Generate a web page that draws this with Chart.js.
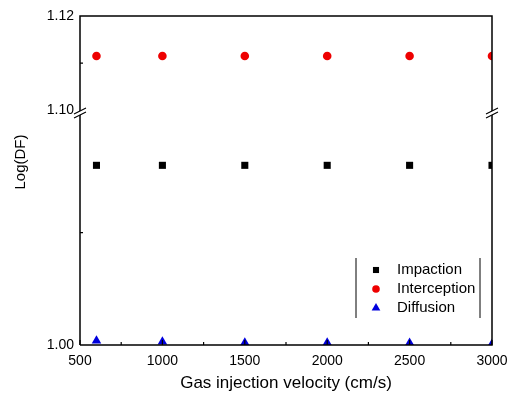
<!DOCTYPE html>
<html>
<head>
<meta charset="utf-8">
<script src="https://cdn.jsdelivr.net/npm/chart.js@4/dist/chart.umd.min.js"></script>
<style>
html,body{margin:0;padding:0;background:#fff;}
#wrap{width:512px;height:403px;}
</style>
</head>
<body>
<div id="wrap"><canvas id="c" width="512" height="403"></canvas></div>
<script>
const velocities = [600, 1000, 1500, 2000, 2500, 3000];
const impaction = [1.080, 1.080, 1.080, 1.080, 1.080, 1.080];
const interception = [1.1115, 1.1115, 1.1115, 1.1115, 1.1115, 1.1115];
const diffusion = [1.0019, 1.0015, 1.0010, 1.0010, 1.0009, 1.0005];
const xTicks = [500, 1000, 1500, 2000, 2500, 3000];
const xMinorTicks = [750, 1250, 1750, 2250, 2750];
const lowerTickLabels = [1.00];
const lowerMinorTicks = [1.05];
const upperTickLabels = [1.10, 1.12];
const upperMinorTicks = [1.11];

const FONT = "'Liberation Sans', Arial, sans-serif";

function pts(xs, ys){ return xs.map((x,i)=>({x:x, y:ys[i]})); }

const framePlugin = {
  id: 'frame',
  afterDraw(chart){
    const ctx = chart.ctx, a = chart.chartArea;
    const xs = chart.scales.x, yl = chart.scales.y, yu = chart.scales.y2;
    ctx.save();
    ctx.strokeStyle = '#000';
    ctx.lineWidth = 1.5;
    ctx.beginPath();
    ctx.moveTo(a.left, a.bottom); ctx.lineTo(a.left, a.top); ctx.lineTo(a.right, a.top); ctx.lineTo(a.right, a.bottom); ctx.lineTo(a.left, a.bottom);
    ctx.stroke();
    // inward ticks
    ctx.lineWidth = 1.2;
    ctx.beginPath();
    xTicks.concat(xMinorTicks).forEach(v=>{
      const px = xs.getPixelForValue(v);
      const len = xMinorTicks.includes(v) ? 3 : 5;
      ctx.moveTo(px, a.bottom); ctx.lineTo(px, a.bottom - len);
    });
    lowerMinorTicks.forEach(v=>{ const py = yl.getPixelForValue(v); ctx.moveTo(a.left, py); ctx.lineTo(a.left+3, py); });
    upperMinorTicks.forEach(v=>{ const py = yu.getPixelForValue(v); ctx.moveTo(a.left, py); ctx.lineTo(a.left+3, py); });
    ctx.stroke();
    // axis break
    const by = yu.bottom;
    [a.left, a.right].forEach(bx=>{
      ctx.fillStyle = '#fff';
      ctx.beginPath();
      ctx.moveTo(bx-6, by+1); ctx.lineTo(bx+6, by-5); ctx.lineTo(bx+6, by-1); ctx.lineTo(bx-6, by+5); ctx.closePath();
      ctx.fill();
      ctx.strokeStyle = '#000'; ctx.lineWidth = 1.1;
      ctx.beginPath();
      ctx.moveTo(bx-6, by+1); ctx.lineTo(bx+6, by-5);
      ctx.moveTo(bx-6, by+5); ctx.lineTo(bx+6, by-1);
      ctx.stroke();
    });
    // y title
    ctx.fillStyle = '#000';
    ctx.font = '15px ' + FONT;
    ctx.textAlign = 'center'; ctx.textBaseline = 'middle';
    ctx.translate(21, 162); ctx.rotate(-Math.PI/2);
    ctx.fillText('Log(DF)', 0, 0);
    ctx.restore();

    // legend
    ctx.save();
    const lx0 = 356, lx1 = 480, ly0 = 258, ly1 = 318;
    ctx.strokeStyle = '#000'; ctx.lineWidth = 1;
    ctx.beginPath();
    ctx.moveTo(lx0, ly0); ctx.lineTo(lx0, ly1);
    ctx.moveTo(lx1, ly0); ctx.lineTo(lx1, ly1);
    ctx.stroke();
    ctx.font = '15px ' + FONT;
    ctx.textAlign = 'left'; ctx.textBaseline = 'middle';
    chart.data.datasets.forEach((ds, i)=>{
      const y = 270 + i*19;
      ctx.fillStyle = ds.backgroundColor;
      ctx.strokeStyle = ds.backgroundColor;
      Chart.helpers.drawPoint(ctx, {pointStyle: ds.pointStyle, radius: ds.legendRadius, borderWidth: 0}, 376, y);
      ctx.fillStyle = '#000';
      ctx.fillText(ds.label, 397, y);
    });
    ctx.restore();
  }
};

new Chart(document.getElementById('c'), {
  type: 'scatter',
  data: {
    datasets: [
      {label: 'Impaction', data: pts(velocities, impaction), yAxisID: 'y', pointStyle: 'rect', pointRadius: 5, legendRadius: 4.3, backgroundColor: '#000000', borderColor: '#000000', borderWidth: 0},
      {label: 'Interception', data: pts(velocities, interception), yAxisID: 'y2', pointStyle: 'circle', pointRadius: 4.3, legendRadius: 3.8, backgroundColor: '#ee0000', borderColor: '#ee0000', borderWidth: 0},
      {label: 'Diffusion', data: pts(velocities, diffusion), yAxisID: 'y', pointStyle: 'triangle', pointRadius: 5.5, legendRadius: 5, backgroundColor: '#0000dd', borderColor: '#0000dd', borderWidth: 0}
    ]
  },
  options: {
    responsive: false,
    animation: false,
    layout: {padding: {top: 16, right: 20, left: 0, bottom: 0}},
    plugins: {legend: {display: false}, tooltip: {enabled: false}},
    scales: {
      x: {
        type: 'linear', min: 500, max: 3000,
        afterBuildTicks(s){ s.ticks = xTicks.map(v=>({value:v})); },
        afterFit(s){ s.height = 58; s.paddingLeft = 0; s.paddingRight = 0; },
        grid: {display: false, drawTicks: false},
        border: {display: false},
        ticks: {color: '#000', font: {family: FONT, size: 14}, padding: 8, maxRotation: 0, callback: v=>String(v)},
        title: {display: true, text: 'Gas injection velocity (cm/s)', color: '#000', font: {family: FONT, size: 17}, padding: {top: 4, bottom: 9}}
      },
      y: {
        type: 'linear', position: 'left', stack: 'ys', stackWeight: 232, min: 1.00, max: 1.1033,
        afterBuildTicks(s){ s.ticks = lowerTickLabels.map(v=>({value:v})); },
        afterFit(s){ s.width = 80; s.paddingTop = 0; s.paddingBottom = 0; },
        grid: {display: false, drawTicks: false},
        border: {display: false},
        ticks: {color: '#000', font: {family: FONT, size: 14}, padding: 6, callback: v=>v.toFixed(2)}
      },
      y2: {
        type: 'linear', position: 'left', stack: 'ys', stackWeight: 97, min: 1.0994, max: 1.12,
        afterBuildTicks(s){ s.ticks = upperTickLabels.map(v=>({value:v})); },
        afterFit(s){ s.width = 80; s.paddingTop = 0; s.paddingBottom = 0; },
        grid: {display: false, drawTicks: false},
        border: {display: false},
        offset: false,
        ticks: {color: '#000', font: {family: FONT, size: 14}, padding: 6, callback: v=>v.toFixed(2)}
      }
    }
  },
  plugins: [framePlugin]
});
</script>
</body>
</html>
